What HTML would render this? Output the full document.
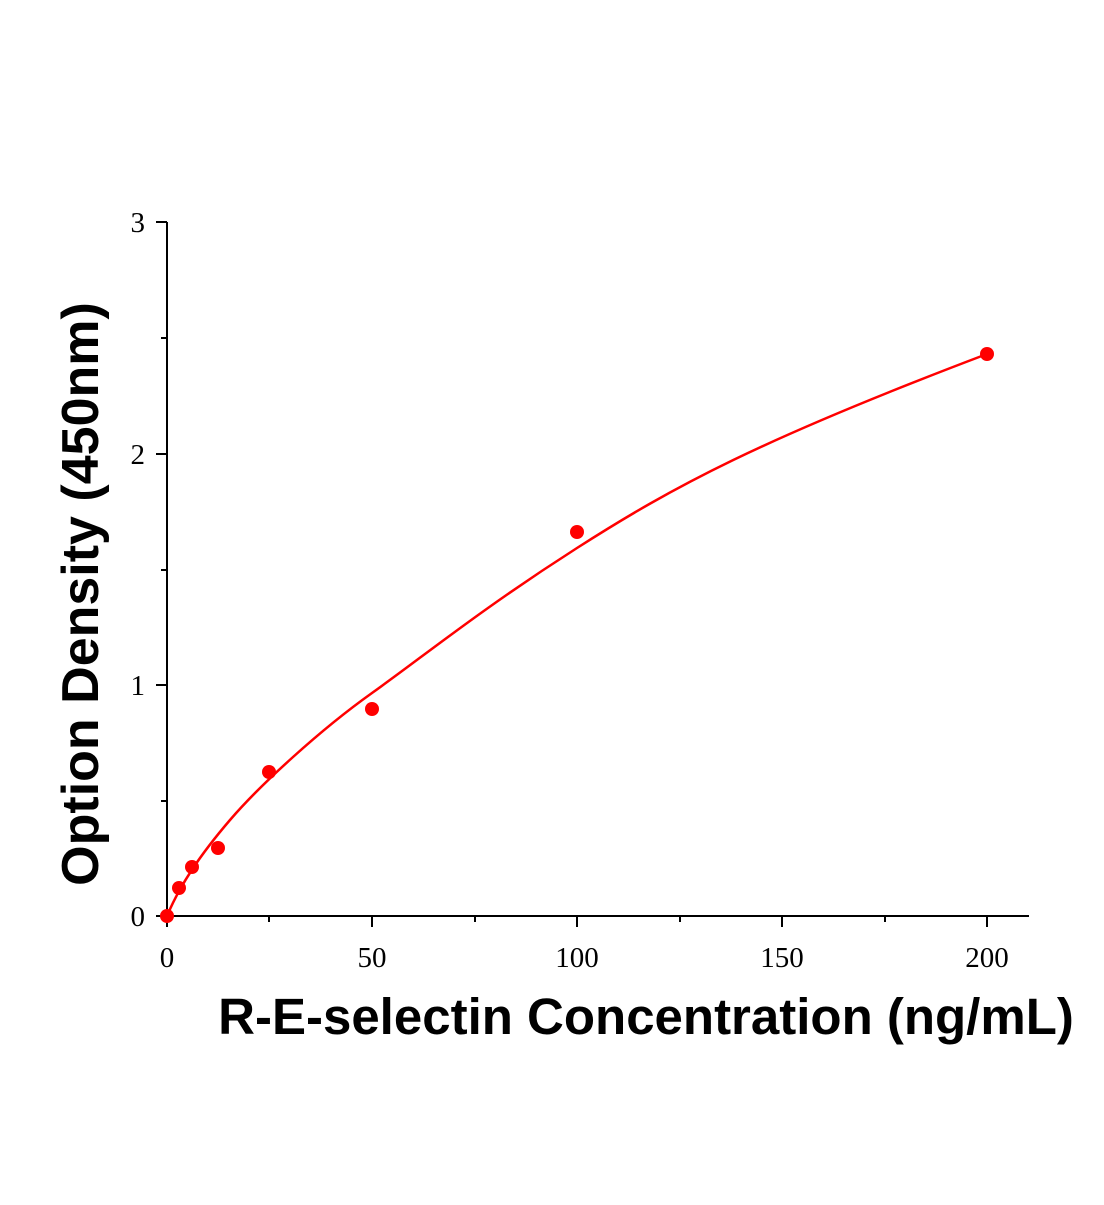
<!DOCTYPE html>
<html><head><meta charset="utf-8"><style>
html,body{margin:0;padding:0;background:#fff;}
</style></head><body>
<svg width="1104" height="1200" viewBox="0 0 1104 1200" xmlns="http://www.w3.org/2000/svg">
<g stroke="#000" stroke-width="2" fill="none">
<line x1="167" y1="222" x2="167" y2="917"/>
<line x1="166" y1="916" x2="1029" y2="916"/>
<line x1="156" y1="222" x2="167" y2="222"/>
<line x1="156" y1="454" x2="167" y2="454"/>
<line x1="156" y1="685" x2="167" y2="685"/>
<line x1="156" y1="916" x2="167" y2="916"/>
<line x1="161" y1="338" x2="167" y2="338"/>
<line x1="161" y1="570" x2="167" y2="570"/>
<line x1="161" y1="801" x2="167" y2="801"/>
<line x1="167" y1="916" x2="167" y2="927"/>
<line x1="372" y1="916" x2="372" y2="927"/>
<line x1="577" y1="916" x2="577" y2="927"/>
<line x1="782" y1="916" x2="782" y2="927"/>
<line x1="987" y1="916" x2="987" y2="927"/>
<line x1="269" y1="916" x2="269" y2="922"/>
<line x1="475" y1="916" x2="475" y2="922"/>
<line x1="680" y1="916" x2="680" y2="922"/>
<line x1="885" y1="916" x2="885" y2="922"/>
</g>
<g font-family="Liberation Serif, serif" font-size="29" fill="#000">
<text x="145" y="232" text-anchor="end">3</text>
<text x="145" y="464" text-anchor="end">2</text>
<text x="145" y="695" text-anchor="end">1</text>
<text x="145" y="926" text-anchor="end">0</text>
<text x="167" y="967" text-anchor="middle">0</text>
<text x="372" y="967" text-anchor="middle">50</text>
<text x="577" y="967" text-anchor="middle">100</text>
<text x="782" y="967" text-anchor="middle">150</text>
<text x="987" y="967" text-anchor="middle">200</text>
</g>
<path fill="none" stroke="#f00" stroke-width="2.5" d="M167,916 C180,885 200,855 230,820 S320,730 372,693 S480,610 577,548 S760,440 987,354"/>
<g fill="#f00">
<circle cx="167" cy="916" r="7"/>
<circle cx="179" cy="888" r="7"/>
<circle cx="192" cy="867" r="7"/>
<circle cx="218" cy="848" r="7"/>
<circle cx="269" cy="772" r="7"/>
<circle cx="372" cy="709" r="7"/>
<circle cx="577" cy="532" r="7"/>
<circle cx="987" cy="354" r="7"/>
</g>
<text x="646" y="1034" text-anchor="middle" font-family="Liberation Sans, sans-serif" font-weight="bold" font-size="51" fill="#000">R-E-selectin Concentration (ng/mL)</text>
<text transform="translate(98,594) rotate(-90)" text-anchor="middle" font-family="Liberation Sans, sans-serif" font-weight="bold" font-size="52" fill="#000">Option Density (450nm)</text>
</svg>
</body></html>
